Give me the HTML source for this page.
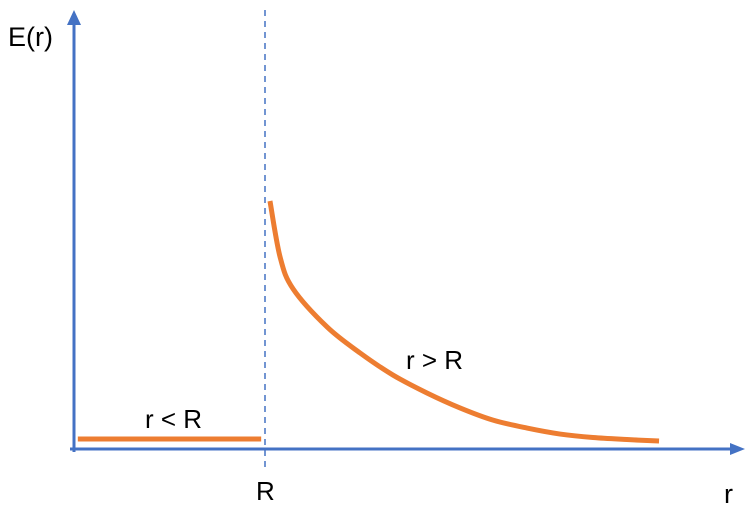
<!DOCTYPE html>
<html><head><meta charset="utf-8"><style>
html,body{margin:0;padding:0;background:#fff;}
svg{display:block;font-family:"Liberation Sans",sans-serif;}
</style></head><body>
<svg id="chart" width="756" height="513" viewBox="0 0 756 513">
<g id="marks"></g>
<line x1="70" y1="449" x2="733" y2="449" stroke="#4472C4" stroke-width="3"/>
<polygon points="745,449 730,443 730,455" fill="#4472C4"/>
<line x1="74" y1="452" x2="74" y2="22" stroke="#4472C4" stroke-width="3"/>
<polygon points="74,10 67,25 81,25" fill="#4472C4"/>
<line x1="265" y1="10" x2="265" y2="470" stroke="#4472C4" stroke-width="1.5" stroke-dasharray="6,5"/>
<text x="8" y="46" font-size="27" fill="#000">E(r)</text>
<text x="724" y="503" font-size="27" fill="#000">r</text>
<text x="256" y="500" font-size="26" fill="#000">R</text>
<text x="145" y="428" font-size="26" fill="#000">r &lt; R</text>
<text x="406" y="369" font-size="26" fill="#000">r &gt; R</text>
</svg>
<script>
const insideR = [0.02, 0.98];
const insideE = [0.04, 0.04];
const outsideR = [1.026, 1.079, 1.147, 1.325, 1.497, 1.670, 1.848, 2.021, 2.194, 2.372, 2.545, 2.717, 2.895, 3.063];
const outsideE = [0.996, 0.771, 0.643, 0.490, 0.386, 0.297, 0.225, 0.165, 0.116, 0.084, 0.060, 0.046, 0.038, 0.032];
function xS(r){return 74 + r*191;}
function yS(e){return 449 - e*249;}
const g = document.getElementById('marks');
const ns = 'http://www.w3.org/2000/svg';
function path(rs, es){
  let d = '';
  if (rs.length === 2) { d = 'M'+xS(rs[0])+','+yS(es[0])+' L'+xS(rs[1])+','+yS(es[1]); return d; }
  const p = rs.map((r,i)=>[xS(r), yS(es[i])]);
  d = 'M'+p[0][0]+','+p[0][1];
  for (let i=0;i<p.length-1;i++){
    const p0=p[i-1]||p[i], p1=p[i], p2=p[i+1], p3=p[i+2]||p2;
    const c1=[p1[0]+(p2[0]-p0[0])/6, p1[1]+(p2[1]-p0[1])/6];
    const c2=[p2[0]-(p3[0]-p1[0])/6, p2[1]-(p3[1]-p1[1])/6];
    d += ' C'+c1[0]+','+c1[1]+' '+c2[0]+','+c2[1]+' '+p2[0]+','+p2[1];
  }
  return d;
}
const a = document.createElementNS(ns,'path');
a.setAttribute('d', path(insideR, insideE));
a.setAttribute('stroke','#ED7D31'); a.setAttribute('stroke-width','5'); a.setAttribute('fill','none');


g.appendChild(a);
const b = document.createElementNS(ns,'path');
b.setAttribute('d', path(outsideR, outsideE));
b.setAttribute('stroke','#ED7D31'); b.setAttribute('stroke-width','5'); b.setAttribute('fill','none');


g.appendChild(b);
</script>
</body></html>
